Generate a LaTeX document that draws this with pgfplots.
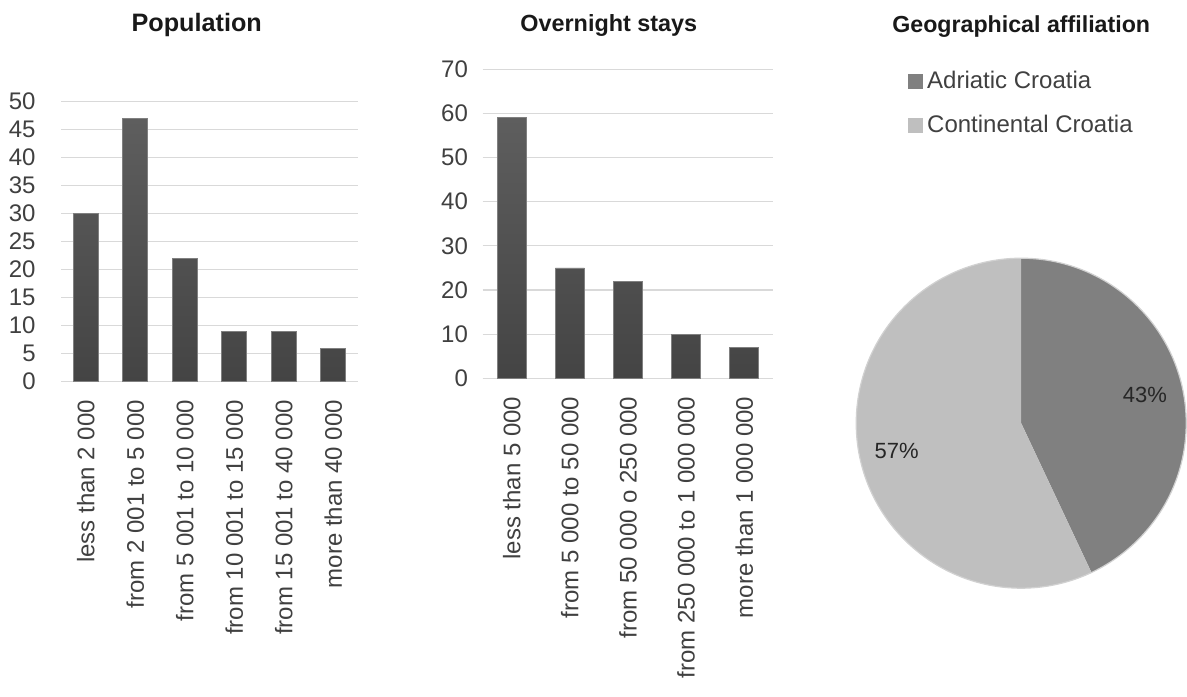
\documentclass[border=0pt]{standalone}
\usepackage{pgfplots}
\pgfplotsset{compat=1.18}
\usepackage{fontspec}
\setmainfont{Liberation Sans}
\definecolor{txt}{HTML}{404040}
\definecolor{gridc}{HTML}{D9D9D9}
\definecolor{adr}{HTML}{808080}
\definecolor{con}{HTML}{BFBFBF}
\definecolor{bartop}{HTML}{5E5E5E}
\definecolor{barbot}{HTML}{444444}
\begin{document}
\begin{tikzpicture}
\useasboundingbox (0,0) rectangle (593.5pt,348pt);
\pgfplotsset{
  barstyle/.style={
    scale only axis, enlargelimits=false, ybar,
    axis lines*=left,
    y axis line style={draw=none},
    x axis line style={draw=gridc, line width=0.6pt},
    major tick length=0pt,
    ymajorgrids, grid style={draw=gridc, line width=0.6pt},
    ymin=0,
    xtick=data,
    tick label style={font=\fontsize{12}{14}\selectfont, text=txt},
    /pgf/number format/assume math mode=true,
    xticklabel style={rotate=90, anchor=east, inner sep=0pt},
    xticklabel shift=9pt,
    yticklabel style={anchor=east, inner sep=0pt},
    title style={text=black!90, anchor=base, yshift=-6pt},
  }
}
% Population
\begin{axis}[barstyle,
  at={(30.5pt,157.15pt)}, anchor=south west,
  width=148.5pt, height=140pt,
  xmin=-0.5, xmax=5.5, ymax=50, ytick={0,5,...,50},
  yticklabel shift=12.5pt,
  xticklabels={less than 2 000, from 2 001 to 5 000, from 5 001 to 10 000, from 10 001 to 15 000, from 15 001 to 40 000, more than 40 000},
  title={Population}, title style={at={(0.457,1.249)}, font=\bfseries\fontsize{12.6}{14}\selectfont},
]
\addplot[draw=black!50, line width=0.4pt, top color=bartop, bottom color=barbot, bar width=12.5pt]
  coordinates {(0,30) (1,47) (2,22) (3,9) (4,9) (5,6)};
\end{axis}
% Overnight stays
\begin{axis}[barstyle,
  at={(241.35pt,158.85pt)}, anchor=south west,
  width=145.3pt, height=154.5pt,
  xmin=-0.5, xmax=4.5, ymax=70, ytick={0,10,...,70},
  yticklabel shift=7.2pt,
  xticklabels={less than 5 000, from 5 000 to 50 000, from 50 000 o 250 000, from 250 000 to 1 000 000, more than 1 000 000},
  title={Overnight stays}, title style={at={(0.434,1.121)}, font=\bfseries\fontsize{11.7}{14}\selectfont},
]
\addplot[draw=black!50, line width=0.4pt, top color=bartop, bottom color=barbot, bar width=14.5pt]
  coordinates {(0,59) (1,25) (2,22) (3,10) (4,7)};
\end{axis}
% Pie
\def\vA{43}
\def\vB{57}
\begin{axis}[
  at={(510.6pt,136.4pt)}, anchor=center,
  x=82.5pt, y=82.5pt, xmin=-1, xmax=1, ymin=-1, ymax=1,
  hide axis, clip=false,
  title={Geographical affiliation},
  title style={font=\bfseries\fontsize{11.6}{14}\selectfont, text=black!90, anchor=base, yshift=-6pt, at={(0.5,1.685)}},
  legend style={draw=none, fill=none, at={(0.157,1.581)}, anchor=north west,
    font=\fontsize{12}{14}\selectfont, text=txt, row sep=8pt, inner sep=0pt},
  legend cell align=left,
]
\addlegendimage{legend image code/.code={\fill[adr] (0pt,-3.5pt) rectangle (7pt,3.5pt);}}
\addlegendentry{Adriatic Croatia}
\addlegendimage{legend image code/.code={\fill[con] (0pt,-3.5pt) rectangle (7pt,3.5pt);}}
\addlegendentry{Continental Croatia}
\pgfmathsetmacro{\aEnd}{90-\vA*3.6}
\pgfmathsetmacro{\cx}{cos(\aEnd)}
\pgfmathsetmacro{\cy}{sin(\aEnd)}
\fill[adr] (axis cs:0,0) -- (axis cs:0,1) arc[start angle=90, end angle=\aEnd, radius=82.5pt] -- cycle;
\fill[con] (axis cs:0,0) -- (axis cs:\cx,\cy) arc[start angle=\aEnd, end angle=-270, radius=82.5pt] -- cycle;
\draw[black!18, line width=0.6pt] (axis cs:0,0) circle[radius=82.5pt];
\node[font=\fontsize{11}{13}\selectfont, text=black!85] at (axis cs:0.75,0.171) {\vA\%};
\node[font=\fontsize{11}{13}\selectfont, text=black!85] at (axis cs:-0.755,-0.167) {\vB\%};
\end{axis}
\end{tikzpicture}
\end{document}
